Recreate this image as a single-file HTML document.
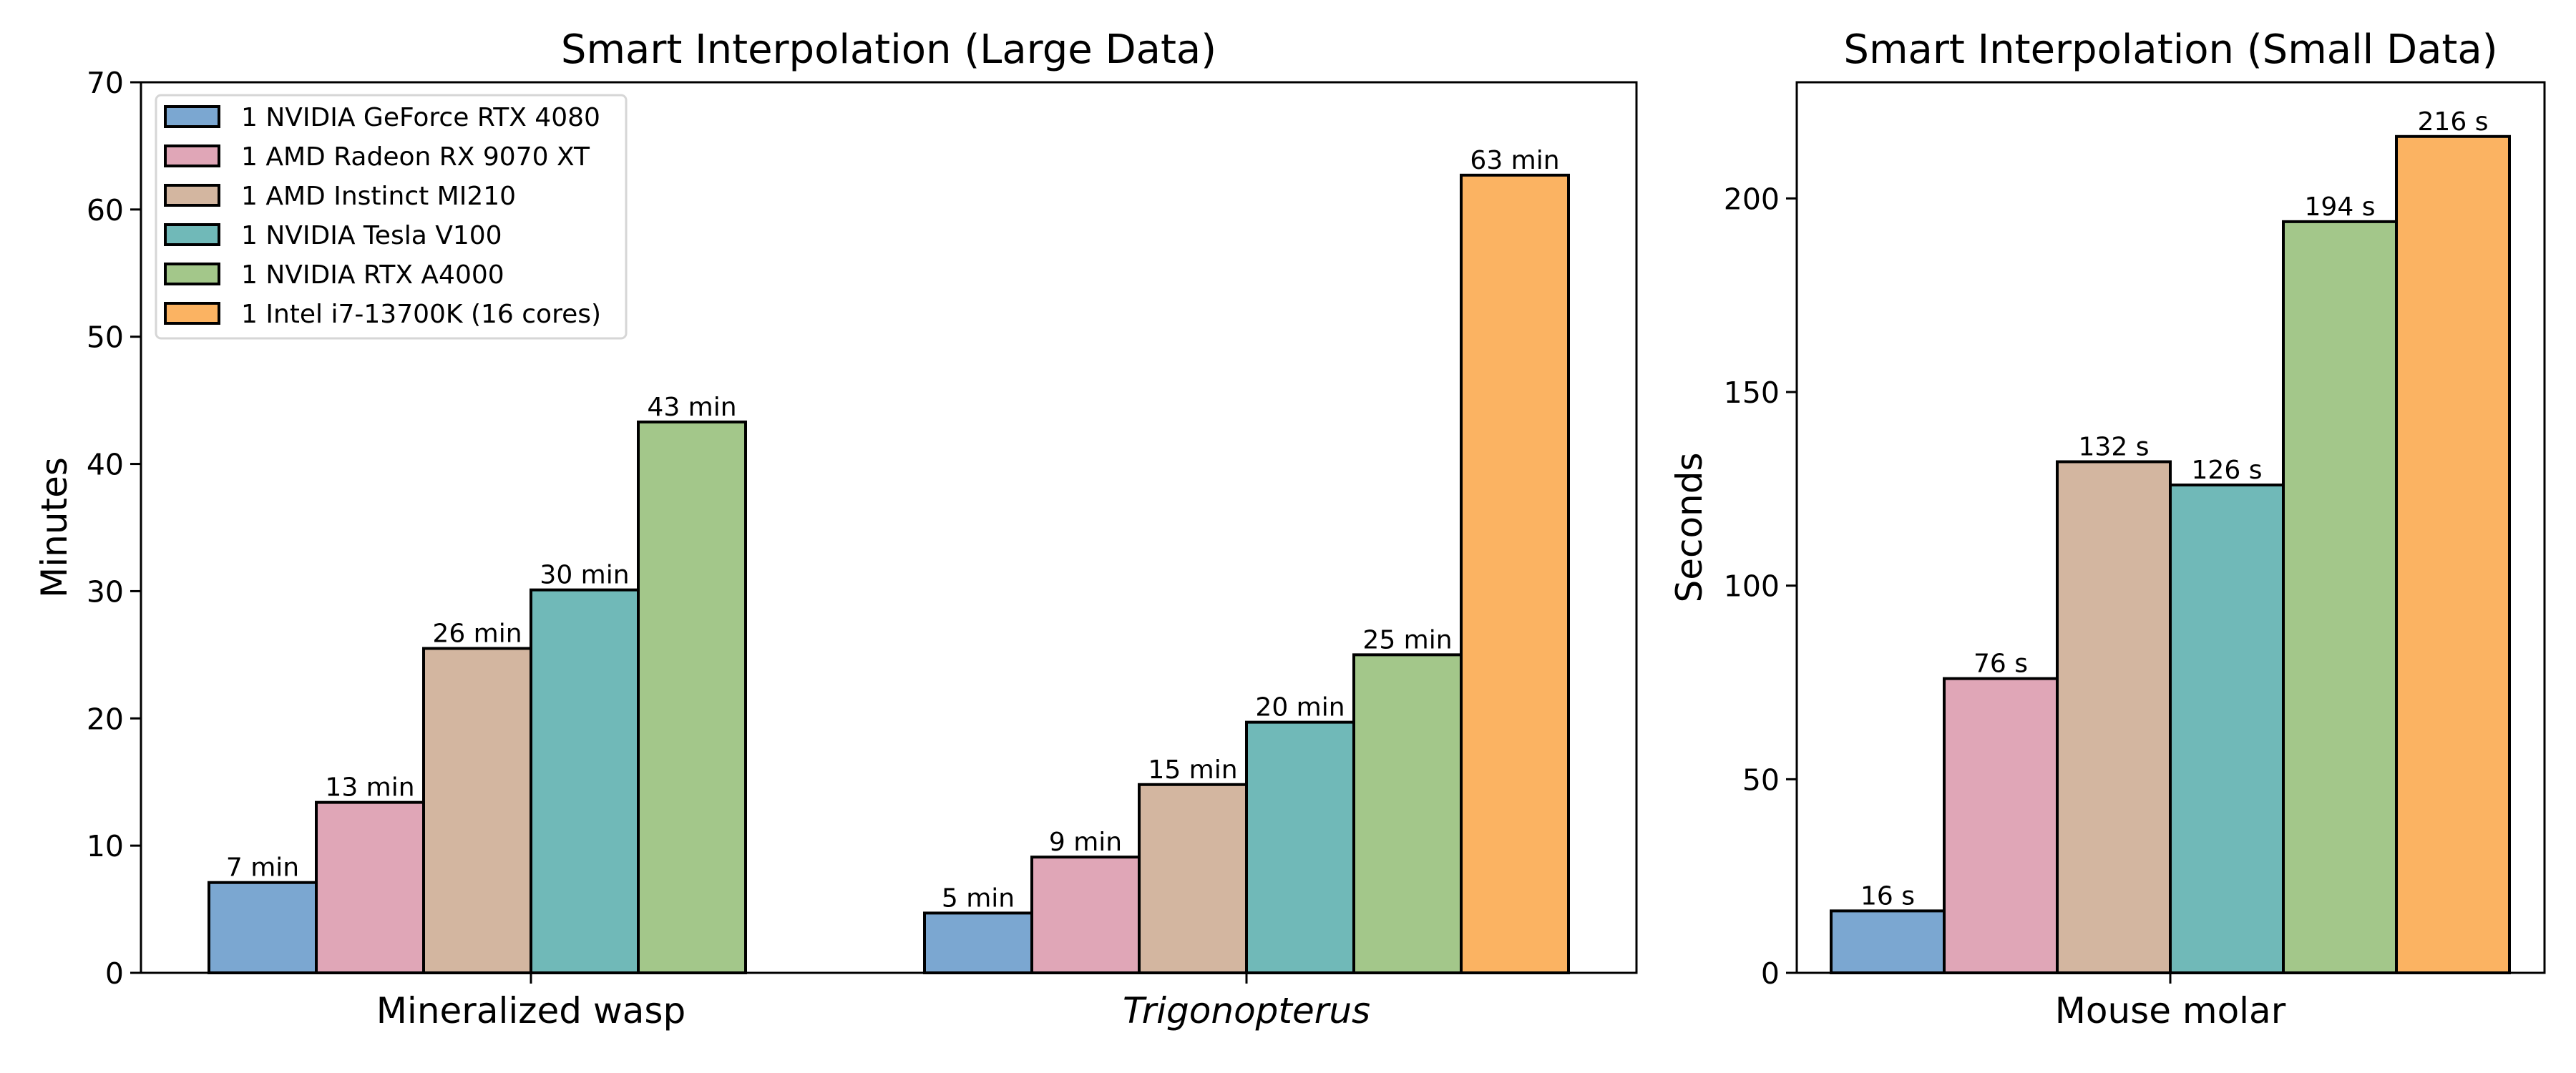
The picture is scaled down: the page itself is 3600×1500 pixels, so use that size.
<!DOCTYPE html>
<html><head><meta charset="utf-8"><style>
html,body{margin:0;padding:0;background:#fff;}
svg{display:block;font-family:"DejaVu Sans","Liberation Sans",sans-serif;}
</style></head><body>
<svg id="fig" width="3600" height="1500" viewBox="0 0 3600 1500" xmlns="http://www.w3.org/2000/svg"></svg>
<script>
const seriesNames = ["1 NVIDIA GeForce RTX 4080","1 AMD Radeon RX 9070 XT","1 AMD Instinct MI210","1 NVIDIA Tesla V100","1 NVIDIA RTX A4000","1 Intel i7-13700K (16 cores)"];
const seriesColors = ["#7ba7d1","#e0a6b7","#d3b6a0","#70b9b8","#a3c78a","#fbb362"];
const largeCategories = ["Mineralized wasp","Trigonopterus"];
const waspValues = [7.1, 13.4, 25.5, 30.1, 43.3, null];
const trigValues = [4.7, 9.1, 14.8, 19.7, 25.0, 62.7];
const largeLabels = [["7 min","13 min","26 min","30 min","43 min",""],["5 min","9 min","15 min","20 min","25 min","63 min"]];
const largeTicks = [0,10,20,30,40,50,60,70];
const smallCategories = ["Mouse molar"];
const mouseValues = [16, 76, 132, 126, 194, 216];
const smallLabels = ["16 s","76 s","132 s","126 s","194 s","216 s"];
const smallTicks = [0,50,100,150,200];

const NS="http://www.w3.org/2000/svg";
const svg=document.getElementById('fig');
function mk(tag,attrs,parent){const e=document.createElementNS(NS,tag);for(const k in attrs)e.setAttribute(k,attrs[k]);(parent||svg).appendChild(e);return e;}

function drawAxes(o){
  const g=mk('g',{});
  
  
  const yScale=v=>o.bottom-(v/o.ymax)*(o.bottom-o.top);
  const xScale=(ci,si)=>o.cx0+ci*o.catStep+(si-3)*o.bw;
  // bars
  o.values.forEach((vals,ci)=>{
    vals.forEach((v,si)=>{
      if(v===null||v===undefined)return;
      const x=xScale(ci,si), y=yScale(v);
      const r=mk('rect',{x:x,y:y,width:o.bw,height:o.bottom-y,fill:seriesColors[si],stroke:'#000','stroke-width':4},g);
      
      
      const lab=o.labels[ci][si];
      if(lab){
        const t=mk('text',{x:x+o.bw/2,y:y-9,'text-anchor':'middle','font-size':36},g);
        t.textContent=lab;
        
        
      }
    });
  });
  // frame
  const f=mk('rect',{x:o.left,y:o.top,width:o.right-o.left,height:o.bottom-o.top,fill:'none',stroke:'#000','stroke-width':3},g);
  
  
  // y ticks
  o.ticks.forEach(v=>{
    const y=yScale(v);
    mk('line',{x1:o.left-15,x2:o.left,y1:y,y2:y,stroke:'#000','stroke-width':3},g);
    const t=mk('text',{x:o.left-24,y:y+15,'text-anchor':'end','font-size':41},g);
    t.textContent=v;
    
    
  });
  // x ticks
  o.cats.forEach((c,ci)=>{
    const x=o.cx0+ci*o.catStep;
    mk('line',{x1:x,x2:x,y1:o.bottom,y2:o.bottom+15,stroke:'#000','stroke-width':3},g);
    const t=mk('text',{x:x,y:1430,'text-anchor':'middle','font-size':50},g);
    t.textContent=c;
    if(c==='Trigonopterus')t.setAttribute('font-style','italic');
    
    
  });
  const title=mk('text',{x:(o.left+o.right)/2,y:88,'text-anchor':'middle','font-size':56},g);
  title.textContent=o.title;
  
  
  const yl=mk('text',{x:0,y:0,'text-anchor':'middle','font-size':50,transform:'translate('+o.ylx+','+((o.top+o.bottom)/2)+') rotate(-90)'},g);
  yl.textContent=o.ylabel;
  
  
}

drawAxes({name:'large-data-chart',short:'large',left:197,right:2287,top:115,bottom:1360,ymax:70,cx0:742,catStep:1000,bw:150,
  values:[waspValues,trigValues],labels:largeLabels,ticks:largeTicks,cats:largeCategories,
  title:'Smart Interpolation (Large Data)',ylabel:'Minutes',ylx:93});
drawAxes({name:'small-data-chart',short:'small',left:2511,right:3556,top:115,bottom:1360,ymax:230,cx0:3033,catStep:0,bw:158,
  values:[mouseValues],labels:[smallLabels],ticks:smallTicks,cats:smallCategories,
  title:'Smart Interpolation (Small Data)',ylabel:'Seconds',ylx:2378});

// legend
const lg=mk('g',{});


const lb=mk('rect',{x:218,y:133,width:657,height:340,rx:7,fill:'#fff','fill-opacity':0.8,stroke:'#d6d6d6','stroke-width':3},lg);


seriesNames.forEach((n,i)=>{
  const cy=163+i*55;
  const e=mk('g',{},lg);
  
  
  mk('rect',{x:231,y:cy-14,width:75,height:28,fill:seriesColors[i],stroke:'#000','stroke-width':4},e);
  const t=mk('text',{x:337,y:cy+13,'font-size':36},e);
  t.textContent=n;
});
</script>
</body></html>
